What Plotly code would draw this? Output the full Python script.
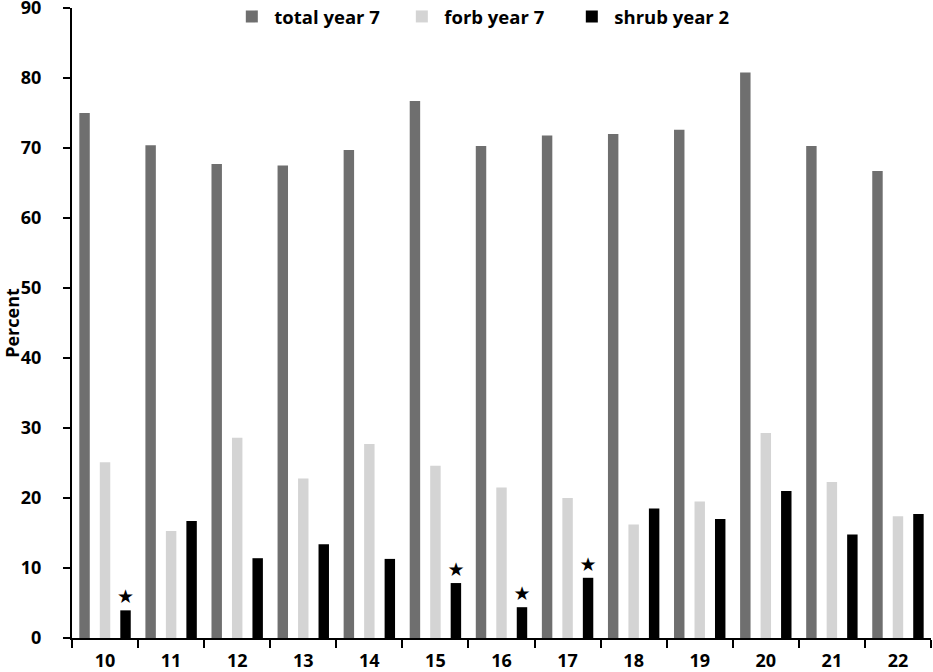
import plotly.graph_objects as go

categories = ["10", "11", "12", "13", "14", "15", "16", "17", "18", "19", "20", "21", "22"]
total_year7 = [75.0, 70.4, 67.7, 67.5, 69.7, 76.7, 70.3, 71.8, 72.0, 72.6, 80.8, 70.3, 66.7]
forb_year7 = [25.1, 15.3, 28.6, 22.8, 27.7, 24.6, 21.5, 20.0, 16.2, 19.5, 29.3, 22.3, 17.4]
shrub_year2 = [3.95, 16.7, 11.4, 13.4, 11.3, 7.85, 4.4, 8.6, 18.5, 17.0, 21.0, 14.8, 17.7]
shrub_significant = [True, False, False, False, False, True, True, True, False, False, False, False, False]
y_ticks = [0, 10, 20, 30, 40, 50, 60, 70, 80, 90]

FONT = "Open Sans"

fig = go.Figure()
fig.add_trace(go.Bar(x=categories, y=total_year7, name="total year 7",
                     marker=dict(color="#6f6f6f", line=dict(width=0))))
fig.add_trace(go.Bar(x=categories, y=forb_year7, name="forb year 7",
                     marker=dict(color="#d4d4d4", line=dict(width=0))))
fig.add_trace(go.Bar(x=categories, y=shrub_year2, name="shrub year 2",
                     marker=dict(color="#000000", line=dict(width=0)),
                     text=["★" if s else "" for s in shrub_significant],
                     textposition="outside", constraintext="none",
                     textfont=dict(size=19, color="black", family="DejaVu Sans"),
                     cliponaxis=False))

fig.update_layout(
    width=933, height=672,
    margin=dict(l=72, r=2, t=8, b=34, autoexpand=False),
    paper_bgcolor="white", plot_bgcolor="white",
    barmode="group", bargap=0.07, bargroupgap=0.49,
    font=dict(family=FONT, size=17, color="black"),
    showlegend=True,
    legend=dict(orientation="h", x=0.48, xanchor="center", y=1.016, yanchor="top",
                bgcolor="rgba(0,0,0,0)", font=dict(family=FONT, size=18.5, color="black", weight="bold"),
                itemwidth=35, entrywidth=120, entrywidthmode="pixels", traceorder="normal"),
)
fig.update_xaxes(
    type="category", showline=True, linecolor="black", linewidth=2,
    ticks="outside", tickson="boundaries", ticklen=8, tickwidth=2, tickcolor="black",
    tickfont=dict(family=FONT, size=18, color="black", weight="bold"),
    ticklabelstandoff=5, ticklabeloverflow="allow",
    showgrid=False, zeroline=False, automargin=False,
)
fig.update_yaxes(
    range=[0, 90], tickvals=y_ticks, showline=True, linecolor="black", linewidth=2,
    ticks="outside", ticklen=7, tickwidth=2, tickcolor="black",
    tickfont=dict(family=FONT, size=18, color="black", weight="bold"),
    ticklabelstandoff=18, ticklabeloverflow="allow",
    showgrid=False, zeroline=False, automargin=False,
    title=dict(text="Percent", font=dict(family=FONT, size=18, color="black", weight="bold"), standoff=0),
)

fig.write_html("out.html", config={"displayModeBar": False},
               post_script="document.body.style.margin='0px';")
